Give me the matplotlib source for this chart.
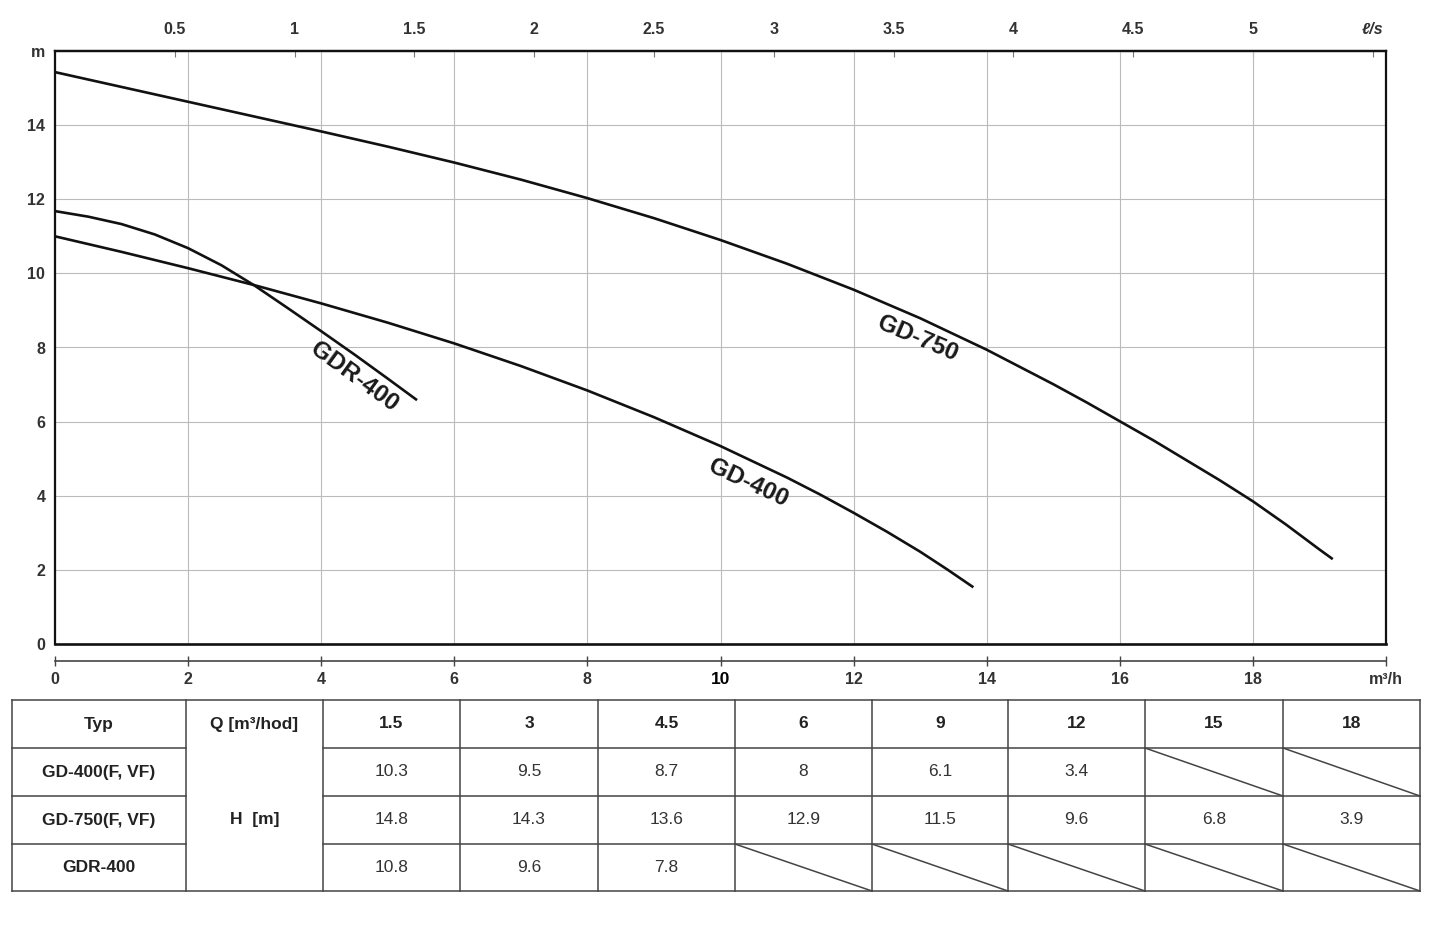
import matplotlib.pyplot as plt
import numpy as np

plt.rcParams['font.family'] = ['Liberation Sans', 'DejaVu Sans']

# Q-H curves (Q in m3/h, H in m)
q_gd750 = [0, 1, 2, 3, 4, 5, 6, 7, 8, 9, 10, 11, 12, 13, 14, 15, 15.5, 16, 16.5,
           17, 17.5, 18, 18.5, 19, 19.2]
h_gd750 = [15.43, 15.03, 14.63, 14.23, 13.83, 13.42, 12.99, 12.53, 12.03, 11.49, 10.90,
           10.26, 9.56, 8.79, 7.94, 7.01, 6.52, 6.01, 5.50, 4.96, 4.42, 3.85, 3.22,
           2.55, 2.29]
q_gd400 = [0, 1, 2, 3, 4, 5, 6, 7, 8, 9, 10, 11, 11.5, 12, 12.5, 13, 13.4, 13.8]
h_gd400 = [11.0, 10.58, 10.14, 9.68, 9.19, 8.67, 8.11, 7.50, 6.84, 6.12, 5.34, 4.49,
           4.03, 3.54, 3.03, 2.49, 2.02, 1.53]
q_gdr400 = [0, 0.5, 1, 1.5, 2, 2.5, 3, 3.5, 4, 4.5, 5, 5.44]
h_gdr400 = [11.68, 11.53, 11.33, 11.05, 10.68, 10.22, 9.67, 9.06, 8.44, 7.81, 7.16, 6.58]

# axis ticks
q_ticks = [0, 2, 4, 6, 8, 10, 12, 14, 16, 18, 20]
q_labels = ['0', '2', '4', '6', '8', '10', '12', '14', '16', '18', 'm³/h']
h_ticks = [0, 2, 4, 6, 8, 10, 12, 14, 16]
h_labels = ['0', '2', '4', '6', '8', '10', '12', '14', 'm']
ls_ticks = [0.5, 1, 1.5, 2, 2.5, 3, 3.5, 4, 4.5, 5, 5.5]
ls_labels = ['0.5', '1', '1.5', '2', '2.5', '3', '3.5', '4', '4.5', '5', 'ℓ/s']

# table below the chart
table_q = [1.5, 3, 4.5, 6, 9, 12, 15, 18]
table_names = ['GD-400(F, VF)', 'GD-750(F, VF)', 'GDR-400']
table_gd400 = [10.3, 9.5, 8.7, 8, 6.1, 3.4, None, None]
table_gd750 = [14.8, 14.3, 13.6, 12.9, 11.5, 9.6, 6.8, 3.9]
table_gdr400 = [10.8, 9.6, 7.8, None, None, None, None, None]

W, H = 1440, 927
fig = plt.figure(figsize=(W / 100, H / 100), dpi=100)
ax = fig.add_axes([55 / W, (H - 644) / H, 1331 / W, 593 / H])

for q, h in [(q_gd750, h_gd750), (q_gd400, h_gd400), (q_gdr400, h_gdr400)]:
    ax.plot(q, h, color='#111111', lw=1.9, solid_capstyle='butt', solid_joinstyle='round')

lab_font = dict(fontsize=17.5, fontweight='bold', color='#1a1a1a', ha='center', va='center')
ax.text(12.97, 8.25, 'GD-750', rotation=-23, **lab_font)
ax.text(10.42, 4.35, 'GD-400', rotation=-25, **lab_font)
ax.text(4.5, 7.2, 'GDR-400', rotation=-36, **lab_font)

ax.set_xlim(0, 20)
ax.set_ylim(0, 16)
ax.set_xticks(q_ticks)
ax.set_xticklabels(q_labels)
ax.set_yticks(h_ticks)
ax.set_yticklabels(h_labels)
ax.grid(True, color='#bbbbbb', lw=0.8)
ax.set_axisbelow(True)

for s in ['top', 'left', 'right']:
    ax.spines[s].set_linewidth(1.6)
    ax.spines[s].set_color('#111111')
ax.spines['bottom'].set_position(('outward', 12))
ax.spines['bottom'].set_linewidth(1.2)
ax.spines['bottom'].set_color('#444444')
ax.axhline(0, color='#111111', lw=1.9, clip_on=False, zorder=3)

ax.tick_params(axis='y', length=0, pad=7, labelsize=11.5, labelcolor='#333333')
ax.tick_params(axis='x', direction='inout', length=7, width=1, color='#444444',
               pad=5, labelsize=11.5, labelcolor='#333333')
for t in ax.get_yticklabels() + ax.get_xticklabels():
    t.set_fontweight('bold')
bold10 = ax.get_xticklabels()[5]
bold10.set_fontsize(12.5)
bold10.set_color('black')

def m3h_to_ls(q):
    return np.asarray(q) / 3.6

def ls_to_m3h(q):
    return np.asarray(q) * 3.6

top = ax.secondary_xaxis('top', functions=(m3h_to_ls, ls_to_m3h))
top.set_xticks(ls_ticks)
top.set_xticklabels(ls_labels)
top.tick_params(direction='in', length=4, width=0.8, color='#777777', pad=10,
                labelsize=11.5, labelcolor='#333333')
top.spines['top'].set_linewidth(1.6)
top.spines['top'].set_color('#111111')
for t in top.get_xticklabels():
    t.set_fontweight('bold')
top.get_xticklabels()[-1].set_fontstyle('italic')

# table drawn in pixel coordinates
tab = fig.add_axes([0, 0, 1, 1])
tab.set_xlim(0, W)
tab.set_ylim(H, 0)
tab.axis('off')
tab.patch.set_alpha(0)

col_x = [12, 186, 323, 460, 598, 735, 872, 1008, 1145, 1283, 1420]
row_y = [700, 748, 796, 844, 891]
line = dict(color='#444444', lw=1.1)

for y in row_y:
    if y in (748, 796, 844):
        tab.plot([col_x[0], col_x[1]], [y, y], **line)
        tab.plot([col_x[2], col_x[-1]], [y, y], **line)
    else:
        tab.plot([col_x[0], col_x[-1]], [y, y], **line)
for x in col_x:
    tab.plot([x, x], [row_y[0], row_y[-1]], **line)

head = dict(fontsize=12.5, fontweight='bold', color='#222222', ha='center', va='center')
cell = dict(fontsize=12.5, color='#333333', ha='center', va='center')

def cx(i):
    return (col_x[i] + col_x[i + 1]) / 2

def cy(j):
    return (row_y[j] + row_y[j + 1]) / 2

tab.text(cx(0), cy(0), 'Typ', **head)
tab.text(cx(1), cy(0), 'Q [m³/hod]', **head)
for i, q in enumerate(table_q):
    tab.text(cx(i + 2), cy(0), '{:g}'.format(q), **head)
tab.text(cx(1), (row_y[1] + row_y[4]) / 2, 'H  [m]', **head)

for j, (name, vals) in enumerate(zip(table_names, [table_gd400, table_gd750, table_gdr400])):
    tab.text(cx(0), cy(j + 1), name, **head)
    for i, v in enumerate(vals):
        if v is None:
            tab.plot([col_x[i + 2], col_x[i + 3]], [row_y[j + 1], row_y[j + 2]], **line)
        else:
            tab.text(cx(i + 2), cy(j + 1), '{:g}'.format(v), **cell)

fig.savefig('out.png', dpi=100)
